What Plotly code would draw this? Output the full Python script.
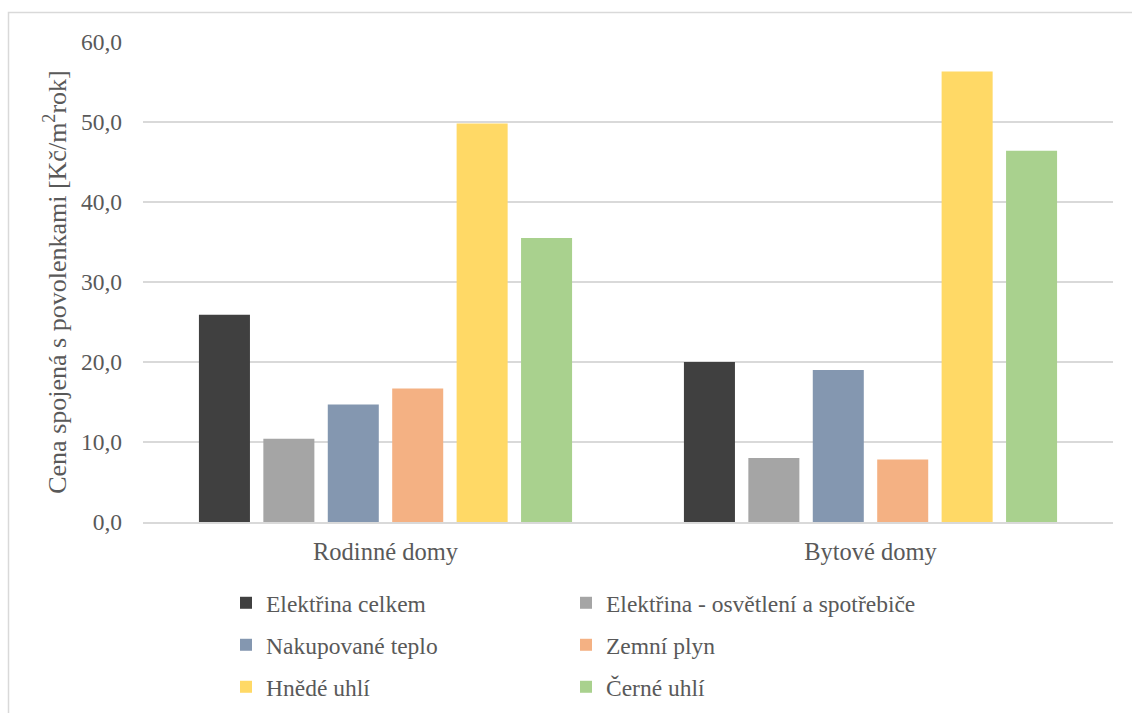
import plotly.graph_objects as go

# Categories and series values (Kč/m²rok)
categories = ["Rodinné domy", "Bytové domy"]
series_names = [
    "Elektřina celkem",
    "Elektřina - osvětlení a spotřebiče",
    "Nakupované teplo",
    "Zemní plyn",
    "Hnědé uhlí",
    "Černé uhlí",
]
elektrina_celkem = [25.9, 20.0]
elektrina_osvetleni = [10.4, 8.0]
nakupovane_teplo = [14.7, 19.0]
zemni_plyn = [16.7, 7.8]
hnede_uhli = [49.8, 56.3]
cerne_uhli = [35.5, 46.4]
y_ticks = [0, 10, 20, 30, 40, 50, 60]

values = [elektrina_celkem, elektrina_osvetleni, nakupovane_teplo,
          zemni_plyn, hnede_uhli, cerne_uhli]
colors = ["#404040", "#a5a5a5", "#8497b0", "#f4b183", "#ffd966", "#a9d18e"]
# two legend entries per row, one legend per row
legend_ids = ["legend", "legend", "legend2", "legend2", "legend3", "legend3"]
# left column entries set the column pitch, right column needs room for text
entry_widths = [295, 340, 295, 340, 295, 340]

FONT = "Liberation Serif"
TEXT = "#595959"

fig = go.Figure()
for name, vals, col, lg, ew in zip(series_names, values, colors,
                                   legend_ids, entry_widths):
    fig.add_trace(go.Bar(
        name=name, x=categories, y=vals,
        marker=dict(color=col, line=dict(width=0)),
        legend=lg, legendwidth=ew,
    ))

W, H = 1132, 713
ml, mr, mt, mb = 143, 19, 42, 191
pw, ph = W - ml - mr, H - mt - mb


def px_to_paper_x(px):
    return (px - ml) / pw


def px_to_paper_y(py):
    return (H - mb - py) / ph


legend_common = dict(
    orientation="h", xanchor="left", yanchor="middle",
    font=dict(family=FONT, size=23.5, color=TEXT),
    bgcolor="rgba(0,0,0,0)", itemclick=False, itemdoubleclick=False,
)

fig.update_layout(
    width=W, height=H,
    margin=dict(l=ml, r=mr, t=mt, b=mb, autoexpand=False),
    paper_bgcolor="white", plot_bgcolor="white",
    separators=", ",
    barmode="group", bargap=0.203, bargroupgap=0.208,
    font=dict(family=FONT, size=23.5, color=TEXT),
    xaxis=dict(
        showgrid=False, showline=True, linecolor="#d9d9d9", linewidth=1.5,
        ticks="", tickfont=dict(family=FONT, size=24.5, color=TEXT),
        ticklabelstandoff=7,
    ),
    yaxis=dict(
        range=[0, 60], tickvals=y_ticks, tickformat=".1f",
        showgrid=True, gridcolor="#d9d9d9", gridwidth=1.5,
        zeroline=False, showline=False, ticks="",
        tickfont=dict(family=FONT, size=23.5, color=TEXT),
        ticklabelstandoff=20,
        title=dict(text="Cena spojená s povolenkami [Kč/m<sup>2</sup>rok]",
                   font=dict(family=FONT, size=26, color=TEXT), standoff=6),
    ),
    legend=dict(x=px_to_paper_x(226), y=px_to_paper_y(603), **legend_common),
    legend2=dict(x=px_to_paper_x(226), y=px_to_paper_y(645), **legend_common),
    legend3=dict(x=px_to_paper_x(226), y=px_to_paper_y(687), **legend_common),
    showlegend=True,
    shapes=[dict(
        type="rect", xref="paper", yref="paper",
        x0=px_to_paper_x(8.5), x1=px_to_paper_x(1140),
        y0=px_to_paper_y(730), y1=px_to_paper_y(12.5),
        line=dict(color="#d9d9d9", width=1.5), fillcolor="rgba(0,0,0,0)",
        layer="below",
    )],
)

fig.write_html("out.html")
